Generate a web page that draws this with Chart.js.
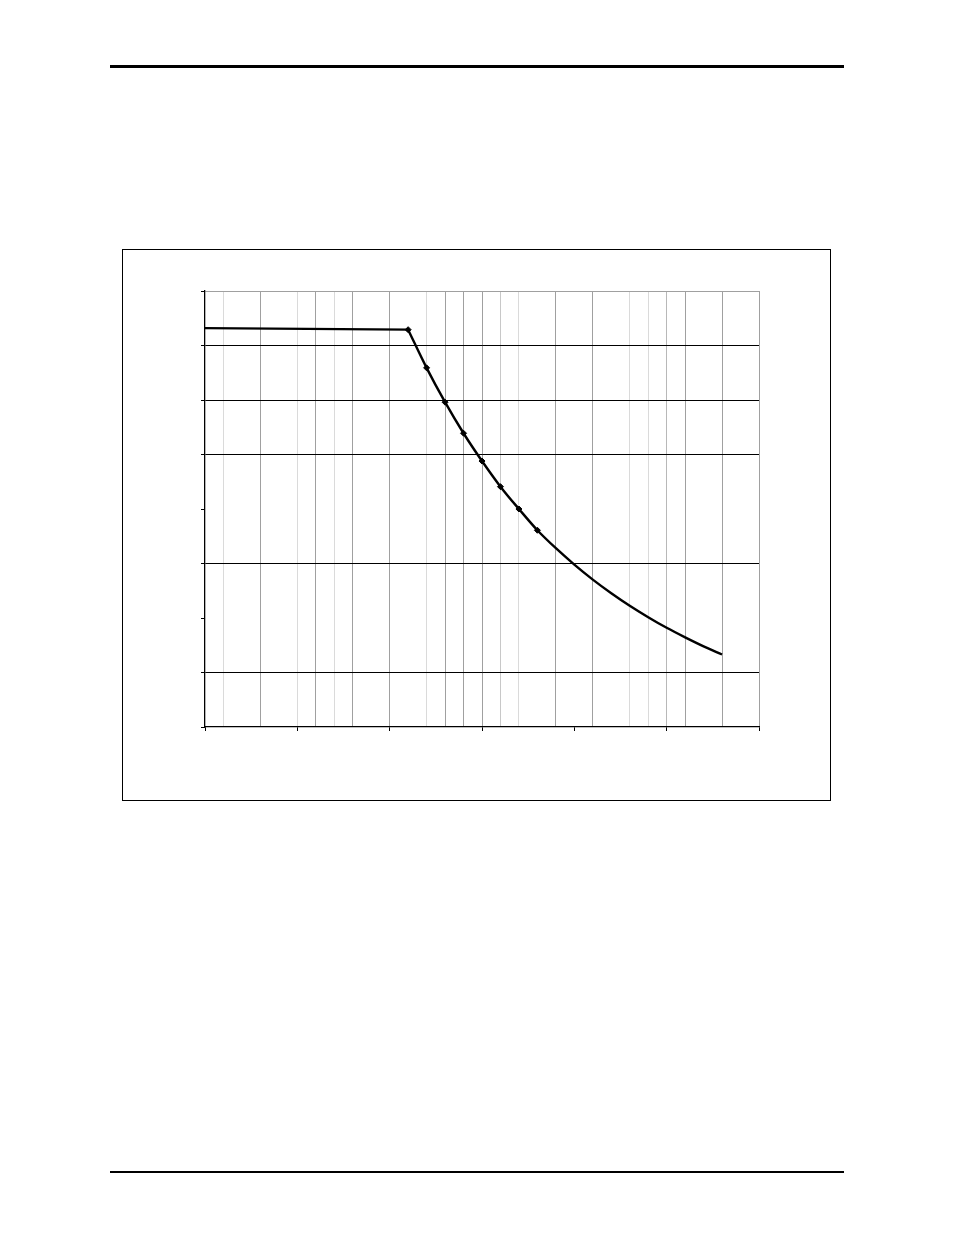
<!DOCTYPE html>
<html>
<head>
<meta charset="utf-8">
<script src="https://cdn.jsdelivr.net/npm/chart.js@4.4.1/dist/chart.umd.min.js"></script>
<style>
  html, body { margin: 0; padding: 0; background: #fff; }
  body { width: 954px; height: 1235px; position: relative; overflow: hidden; font-family: "Liberation Sans", Arial, sans-serif; }
  .rule-top { position: absolute; left: 110px; top: 65px; width: 734px; height: 3px; background: #000; }
  .rule-bottom { position: absolute; left: 110px; top: 1171px; width: 734px; height: 2px; background: #000; }
  .box { position: absolute; left: 122px; top: 249px; width: 707px; height: 550px; border: 1px solid #000; }
  #c { position: absolute; left: 122px; top: 249px; }
</style>
</head>
<body>
<div class="rule-top"></div>
<div class="box"></div>
<canvas id="c" width="709" height="552"></canvas>
<div class="rule-bottom"></div>
<script>
// ---- data ----
const xMin = 0, xMax = 30, xStep = 1, xMajorEvery = 5;
const yMin = 0, yMax = 80, yStep = 10;
const flatX = [0, 11];
const flatY = [73.2, 72.9];
const curveX = [11, 12, 13, 14, 15, 16, 17, 18, 19, 20, 21, 22, 23, 24, 25, 26, 27, 28];
const curveY = [72.9, 65.9, 59.6, 53.9, 48.8, 44.1, 40.0, 36.1, 32.8, 29.8, 27.05, 24.55, 22.25, 20.15, 18.2, 16.45, 14.8, 13.3];
const markedUpTo = 18;

// ---- gridline shades (as seen in the reference) ----
const M = '#a0a0a0', L = '#dadada', N = 'rgba(0,0,0,0)';
const xGridShades = [N, L, N, M, N, L, M, L, M, N, M, N, L, M, M, M, '#c8c8c8', L, N, M, N, M, N, L, L, '#b8b8b8', M, N, M, N, M];
const yGridShades = { 0: N, 10: '#000', 20: N, 30: '#000', 40: N, 50: '#000', 60: '#000', 70: '#000', 80: M };

const toPts = (xs, ys) => xs.map((x, i) => ({ x: x, y: ys[i] }));

new Chart(document.getElementById('c'), {
  type: 'line',
  data: {
    datasets: [
      {
        data: toPts(flatX, flatY),
        borderColor: '#000', borderWidth: 2.2, tension: 0,
        pointRadius: 0
      },
      {
        data: toPts(curveX, curveY),
        borderColor: '#000', borderWidth: 2.4,
        cubicInterpolationMode: 'monotone',
        pointStyle: 'rectRot',
        pointRadius: ctx => (ctx.raw && ctx.raw.x <= markedUpTo) ? 3 : 0,
        pointBackgroundColor: '#000', pointBorderColor: '#000', pointBorderWidth: 1
      }
    ]
  },
  options: {
    responsive: false,
    animation: false,
    devicePixelRatio: 1,
    layout: { padding: { left: 73, right: 72, top: 42, bottom: 64 } },
    plugins: { legend: { display: false }, tooltip: { enabled: false } },
    scales: {
      x: {
        type: 'linear', min: xMin, max: xMax,
        ticks: { display: false, stepSize: xStep, autoSkip: false },
        grid: {
          color: ctx => xGridShades[Math.round(ctx.tick ? ctx.tick.value : 0)] || N,
          lineWidth: 1,
          tickLength: 4,
          tickColor: ctx => (ctx.tick && Math.round(ctx.tick.value) % xMajorEvery === 0) ? '#000' : N
        },
        border: { display: true, color: '#000', width: 1.3 },
        afterFit: s => { s.height = 10; }
      },
      y: {
        type: 'linear', min: yMin, max: yMax,
        ticks: { display: false, stepSize: yStep },
        grid: {
          color: ctx => yGridShades[Math.round(ctx.tick ? ctx.tick.value : 0)] || N,
          lineWidth: 1,
          tickLength: 4,
          tickColor: '#000'
        },
        border: { display: true, color: '#000', width: 1.3 },
        afterFit: s => { s.width = 10; }
      }
    }
  }
});
</script>
</body>
</html>
